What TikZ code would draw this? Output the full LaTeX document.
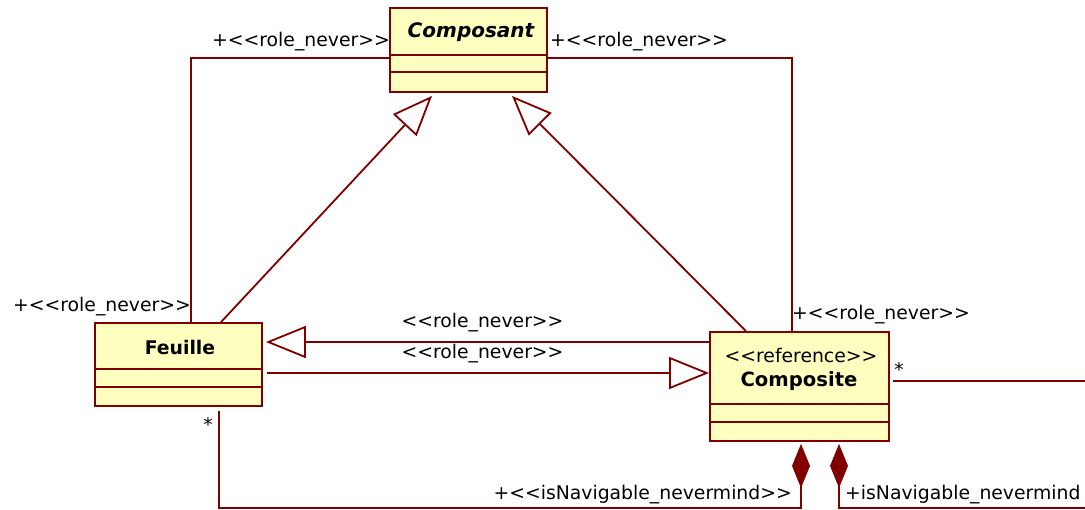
\documentclass[tikz,border=0pt]{standalone}
\usepackage{fontspec}
\newfontfamily\umlfont{DejaVu Sans}
\usetikzlibrary{arrows.meta}
\definecolor{umlline}{RGB}{128,0,0}
\definecolor{umlfill}{RGB}{255,255,192}
\begin{document}
\begin{tikzpicture}[x=1pt,y=-1pt,
  cls/.style={draw=umlline, fill=umlfill, line width=1.8pt, rectangle, inner sep=0pt},
  divider/.style={draw=umlline, line width=1.8pt},
  conn/.style={draw=umlline, line width=1.8pt},
  gen/.style={conn, -{Triangle[open, length=40pt, width=32pt, fill=white]}},
  compo/.style={conn, {Diamond[length=44pt, width=18pt, fill=umlline]}-},
  lbl/.style={font=\umlfont\fontsize{18.8}{22}\selectfont, inner sep=0pt, text=black},
  ttl/.style={font=\umlfont\fontsize{19.6}{22}\selectfont\bfseries, inner sep=0pt, text=black},
]
\useasboundingbox (0,0) rectangle (1085,510);

% classes
\node[cls, minimum width=157pt, minimum height=84pt] (composant) at (468.5,50) {};
\node[cls, minimum width=167pt, minimum height=83pt] (feuille) at (178.5,364.5) {};
\node[cls, minimum width=179pt, minimum height=109pt] (composite) at (799.5,386.5) {};

\node[ttl, font=\umlfont\fontsize{20}{22}\selectfont\bfseries\itshape] (composantT) at (471,32) {Composant};
\node[ttl, font=\umlfont\fontsize{18.8}{22}\selectfont\bfseries] (feuilleT) at (180,347) {Feuille};
\node[lbl] (compositeS) at (801,355) {<<reference>>};
\node[ttl] (compositeT) at (799,381) {Composite};

% dividers
\draw[divider] ([yshift=-5pt]composant.west) -- ([yshift=-5pt]composant.east);
\draw[divider] ([yshift=-22pt]composant.west) -- ([yshift=-22pt]composant.east);
\draw[divider] ([yshift=-4.5pt]feuille.west) -- ([yshift=-4.5pt]feuille.east);
\draw[divider] ([yshift=-22.5pt]feuille.west) -- ([yshift=-22.5pt]feuille.east);
\draw[divider] ([yshift=-17.5pt]composite.west) -- ([yshift=-17.5pt]composite.east);
\draw[divider] ([yshift=-35.5pt]composite.west) -- ([yshift=-35.5pt]composite.east);

% associations to Composant
\draw[conn] ([yshift=-8pt]composant.west) -| ([xshift=12.5pt]feuille.north);
\draw[conn] ([yshift=-8pt]composant.east) -| ([xshift=-7.5pt]composite.north);

% generalizations
\draw[gen] ([xshift=42.5pt]feuille.north) -- ([xshift=-36.5pt,yshift=-3pt]composant.south);
\draw[gen] ([xshift=-53.5pt]composite.north) -- ([xshift=43.5pt,yshift=-3pt]composant.south);
\draw[gen] ([yshift=44.5pt]composite.west) -- ([xshift=3pt,yshift=22.5pt]feuille.east);
\draw[gen] ([xshift=4pt,yshift=-8.5pt]feuille.east) -- ([yshift=13.5pt]composite.west);

% composite self / outgoing associations
\coordinate (rightend) at (1085,381);
\coordinate (bottomline) at (0,508);
\coordinate (bottomend) at (1085,508);
\draw[conn] ([xshift=3pt,yshift=5.5pt]composite.east) -- (rightend);
\draw[compo] ([xshift=1.5pt,yshift=-2pt]composite.south) -- ([xshift=1.5pt]composite.south |- bottomline) -| ([xshift=40.5pt,yshift=-4pt]feuille.south);
\draw[compo] ([xshift=39.5pt,yshift=-2pt]composite.south) |- (bottomend);

% labels
\node[lbl, anchor=east] (l1) at (390,42) {+<<role\_never>>};
\node[lbl, anchor=west] (l2) at (550,42) {+<<role\_never>>};
\node[lbl, anchor=east] (l3) at (191,307) {+<<role\_never>>};
\node[lbl, anchor=west] (l4) at (792,315) {+<<role\_never>>};
\node[lbl] (l5) at (482.5,323) {<<role\_never>>};
\node[lbl] (l6) at (482.5,354) {<<role\_never>>};
\node[lbl] (s1) at (899,370) {*};
\node[lbl] (s2) at (208,425) {*};
\node[lbl, anchor=east] (l7) at (792,495) {+<<isNavigable\_nevermind>>};
\node[lbl, anchor=west] (l8) at (845,495) {+isNavigable\_nevermind};
\end{tikzpicture}
\end{document}
